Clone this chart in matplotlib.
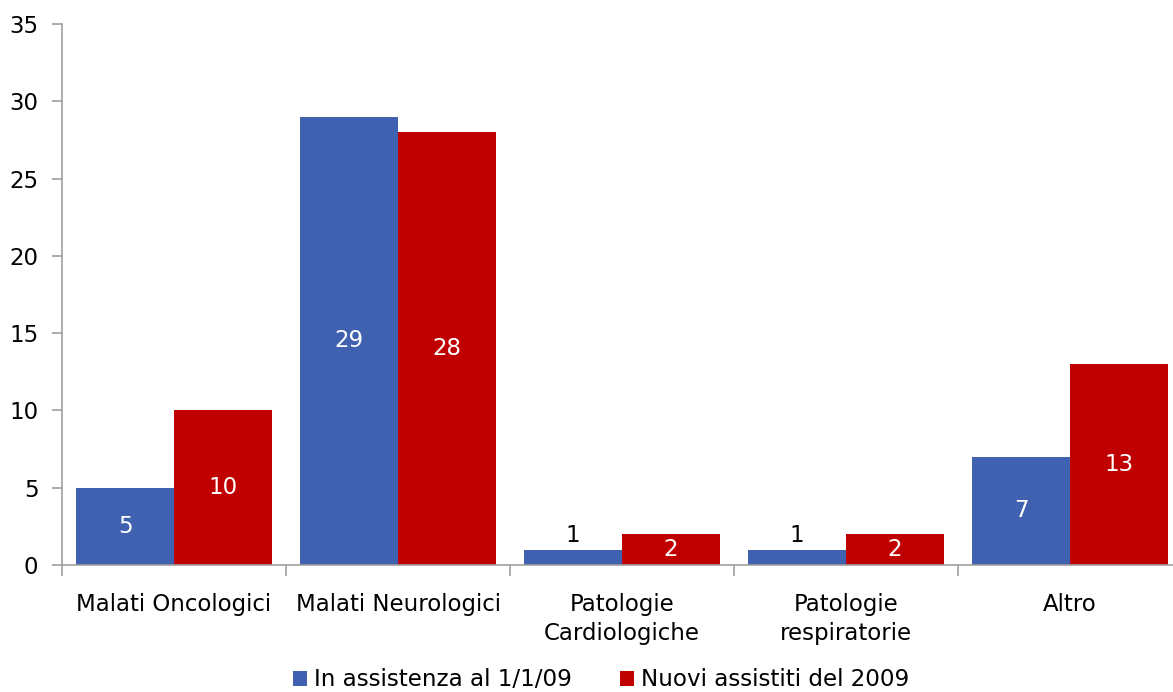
import matplotlib
matplotlib.use("Agg")
import matplotlib.pyplot as plt
import numpy as np

categories = ["Malati Oncologici", "Malati Neurologici", "Patologie\nCardiologiche",
              "Patologie\nrespiratorie", "Altro"]
series_names = ["In assistenza al 1/1/09", "Nuovi assistiti del 2009"]
in_assistenza = [5, 29, 1, 1, 7]
nuovi = [10, 28, 2, 2, 13]
colors = ["#4060B0", "#C00000"]

W, H = 1173, 692
fig = plt.figure(figsize=(W / 100, H / 100), dpi=100)
ax = fig.add_axes([62 / W, 127 / H, 1120 / W, 541 / H])

x = np.arange(len(categories))
bw = 0.4375
fs = 16.5
b1 = ax.bar(x - bw / 2, in_assistenza, bw, color=colors[0], label=series_names[0], zorder=2)
b2 = ax.bar(x + bw / 2, nuovi, bw, color=colors[1], label=series_names[1], zorder=2)

for bars, vals in ((b1, in_assistenza), (b2, nuovi)):
    for rect, v in zip(bars, vals):
        cx = rect.get_x() + rect.get_width() / 2
        if v < 2:
            ax.text(cx, v + 0.15, str(v), ha="center", va="bottom", color="black", fontsize=fs)
        else:
            ax.text(cx, v / 2, str(v), ha="center", va="center", color="white", fontsize=fs)

ax.set_xlim(-0.5, len(categories) - 0.5)
ax.set_ylim(0, 35)
ax.set_yticks(np.arange(0, 36, 5))
ax.set_xticks(np.arange(-0.5, len(categories), 1.0))
ax.set_xticklabels([])
ax.set_xticks(x, minor=True)
ax.set_xticklabels(categories, minor=True, fontsize=fs, linespacing=1.35)
ax.tick_params(axis="x", which="minor", length=0, pad=20)
ax.tick_params(axis="x", which="major", length=8, color="#A0A0A0", width=1.2)
ax.tick_params(axis="y", length=7, color="#A0A0A0", width=1.2, labelsize=fs, pad=10)

for s in ("top", "right"):
    ax.spines[s].set_visible(False)
for s in ("left", "bottom"):
    ax.spines[s].set_color("#A0A0A0")
    ax.spines[s].set_linewidth(1.2)

fig.legend(handles=[b1, b2], labels=series_names, loc="center", bbox_to_anchor=(601 / W, 1 - 680 / H),
           ncol=2, frameon=False, fontsize=16.6, handlelength=0.6, handleheight=0.6,
           handletextpad=0.3, columnspacing=2.1)

fig.savefig("out.png", dpi=100)
